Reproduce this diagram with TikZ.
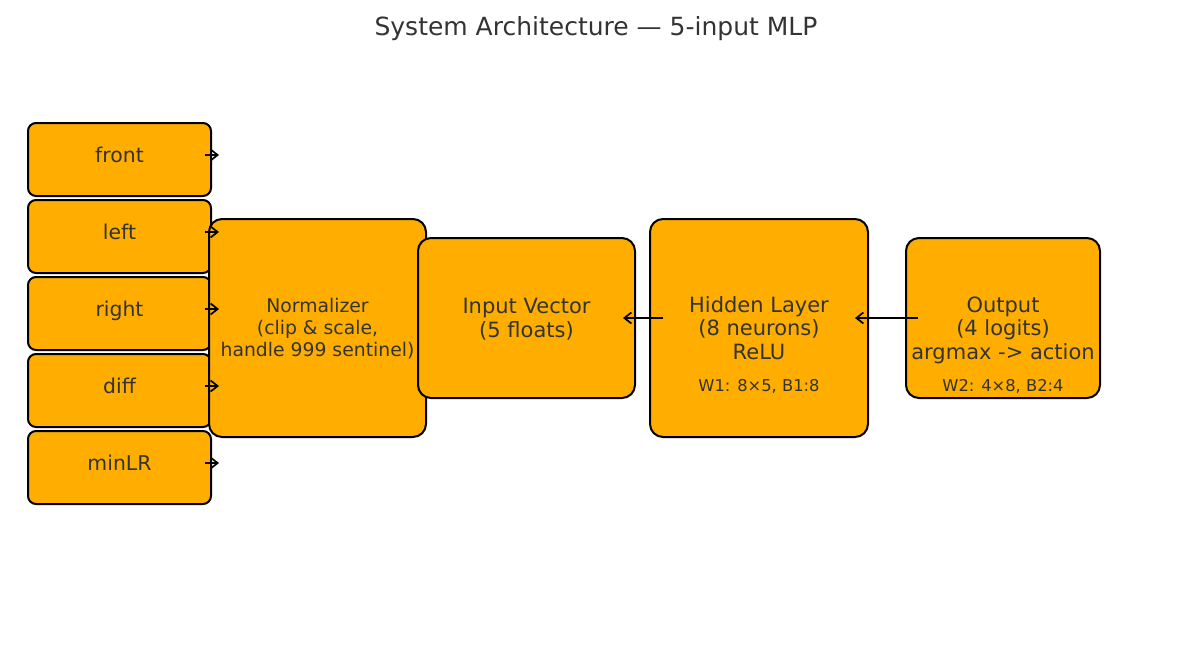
\documentclass[tikz,border=0pt]{standalone}
\usepackage{fontspec}
\setmainfont{DejaVu Sans}
\usetikzlibrary{arrows.meta,calc}
\definecolor{boxfill}{HTML}{FFAE00}
\definecolor{txt}{HTML}{333333}
\begin{document}
\begin{tikzpicture}[x=1pt,y=-1pt,
  inbox/.style={draw=black, line width=2pt, fill=boxfill, rounded corners=8pt, inner sep=0pt, minimum width=183pt, minimum height=73pt},
  bigbox/.style={draw=black, line width=2pt, fill=boxfill, rounded corners=13pt, inner sep=0pt},
  lbl/.style={text=txt, font=\fontsize{21}{23.5}\selectfont, align=center, inner sep=0pt},
  inlbl/.style={text=txt, font=\fontsize{20.4}{24}\selectfont, inner sep=0pt},
  small/.style={text=txt, font=\fontsize{16.3}{19}\selectfont, inner sep=0pt},
  arr/.style={-{Straight Barb[length=7pt,width=11pt]}, line width=1.7pt, black}]
\useasboundingbox (0,0) rectangle (1192,651);

\node[text=txt, font=\fontsize{25}{30}\selectfont, inner sep=0pt] (title) at (596,28.5) {System Architecture — 5-input MLP};

% input boxes
\node[inbox] (fr) at (119.5,159.5) {};
\node[inbox] (le) at (119.5,236.5) {};
\node[inbox] (ri) at (119.5,313.5) {};
\node[inbox] (di) at (119.5,390.5) {};
\node[inbox] (mi) at (119.5,467.5) {};

% main boxes
\node[bigbox, minimum width=217pt, minimum height=218pt] (norm) at (317.5,328) {};
\node[bigbox, minimum width=217pt, minimum height=160pt] (vec) at (526.5,318) {};
\node[bigbox, minimum width=218pt, minimum height=218pt] (hid) at (759,328) {};
\node[bigbox, minimum width=194pt, minimum height=160pt] (out) at (1003,318) {};

% texts
\node[inlbl, anchor=base] (tfr) at (119.5,162) {front};
\node[inlbl, anchor=base] (tle) at (119.5,239) {left};
\node[inlbl, anchor=base] (tri) at (119.5,316) {right};
\node[inlbl, anchor=base] (tdi) at (119.5,393) {diff};
\node[inlbl, anchor=base] (tmi) at (119.5,470) {minLR};

\node[lbl, font=\fontsize{18.8}{22}\selectfont] (tnorm) at (317.5,329) {Normalizer\\(clip \& scale,\\handle 999 sentinel)};
\node[lbl] (tvec) at (526.5,319) {Input Vector\\(5 floats)};
\node[lbl] (thid) at (759,328) {Hidden Layer\\(8 neurons)\\ReLU};
\node[small, anchor=base] (whid) at (759,391) {W1: 8×5, B1:8};
\node[lbl] (tout) at (1003,330) {Output\\(4 logits)\\argmax -> action};
\node[small, anchor=base] (wout) at (1003,391) {W2: 4×8, B2:4};

% arrows
\foreach \n in {fr,le,ri,di,mi}
  \draw[arr] ([xshift=-7pt,yshift=4.5pt]\n.east) -- ([xshift=7pt,yshift=4.5pt]\n.east);
\draw[arr] ($(hid.west |- vec.east)+(14,0)$) -- ($(vec.east)+(-13,0)$);
\draw[arr] ($(out.west)+(13,0)$) -- ($(hid.east |- out.west)+(-14,0)$);
\end{tikzpicture}
\end{document}
